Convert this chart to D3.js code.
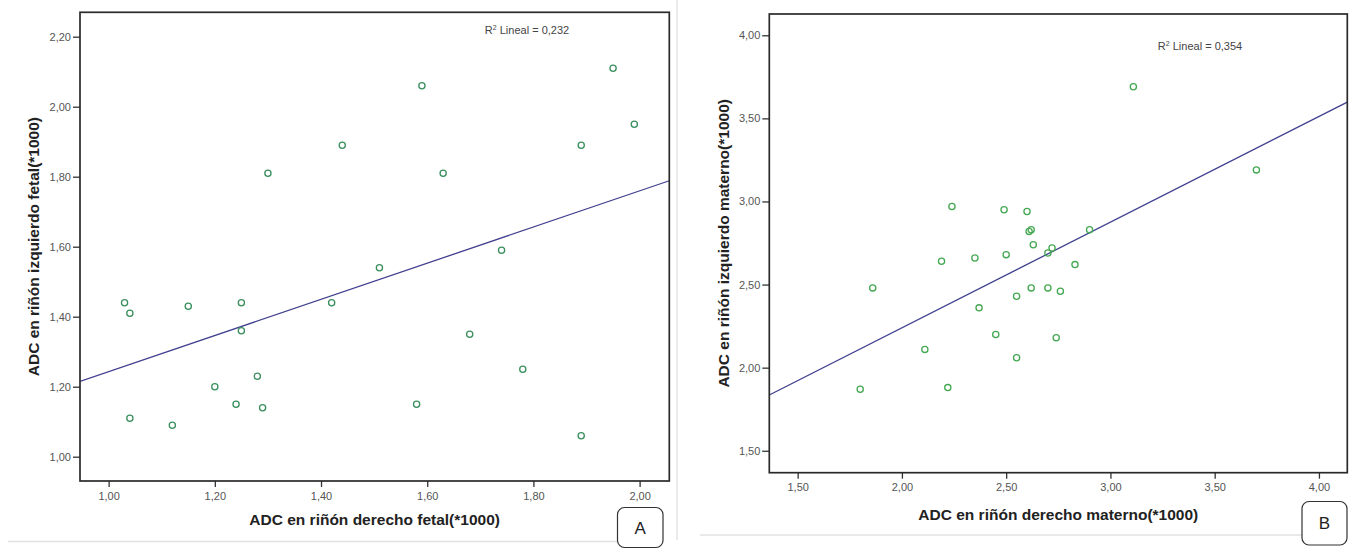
<!DOCTYPE html>
<html>
<head>
<meta charset="utf-8">
<script src="https://cdn.jsdelivr.net/npm/d3@7"></script>
<style>
  html, body { margin: 0; padding: 0; background: #fff; }
  svg { display: block; }
  text { font-family: "Liberation Sans", Arial, sans-serif; }
</style>
</head>
<body>
<svg id="chart" width="1349" height="549"></svg>
<script>
// ---------- DATA ----------
// Panel A (fetal)
const fetalRight = [1.03, 1.04, 1.15, 1.25, 1.25, 1.30, 1.44, 1.42, 1.51, 1.20, 1.28, 1.24, 1.29, 1.04, 1.12,
                    1.59, 1.95, 1.99, 1.89, 1.63, 1.74, 1.68, 1.78, 1.58, 1.89];
const fetalLeft  = [1.44, 1.41, 1.43, 1.44, 1.36, 1.81, 1.89, 1.44, 1.54, 1.20, 1.23, 1.15, 1.14, 1.11, 1.09,
                    2.06, 2.11, 1.95, 1.89, 1.81, 1.59, 1.35, 1.25, 1.15, 1.06];
const fetalXTicks = [1.00, 1.20, 1.40, 1.60, 1.80, 2.00];
const fetalYTicks = [1.00, 1.20, 1.40, 1.60, 1.80, 2.00, 2.20];
const fetalR2 = "0,232";

// Panel B (maternal)
const maternalRight = [1.80, 1.86, 2.11, 2.19, 2.22, 2.24, 2.35, 2.37, 2.45, 2.49, 2.50, 2.55, 2.55, 2.60,
                       2.61, 2.62, 2.62, 2.63, 2.70, 2.70, 2.72, 2.74, 2.76, 2.83, 2.90, 3.11, 3.70];
const maternalLeft  = [1.87, 2.48, 2.11, 2.64, 1.88, 2.97, 2.66, 2.36, 2.20, 2.95, 2.68, 2.43, 2.06, 2.94,
                       2.82, 2.83, 2.48, 2.74, 2.69, 2.48, 2.72, 2.18, 2.46, 2.62, 2.83, 3.69, 3.19];
const maternalXTicks = [1.50, 2.00, 2.50, 3.00, 3.50, 4.00];
const maternalYTicks = [1.50, 2.00, 2.50, 3.00, 3.50, 4.00];
const maternalR2 = "0,354";

// ---------- DRAW ----------
const svg = d3.select("#chart");
const fmt = d => d3.format(".2f")(d).replace(".", ",");

// separators (page furniture)
svg.append("line").attr("x1", 677).attr("x2", 677).attr("y1", 0).attr("y2", 540)
   .attr("stroke", "#e4e4e4").attr("stroke-width", 1.5);
svg.append("line").attr("x1", 8).attr("x2", 640).attr("y1", 541.5).attr("y2", 541.5)
   .attr("stroke", "#e2e2e2").attr("stroke-width", 1.5);
svg.append("line").attr("x1", 700).attr("x2", 1320).attr("y1", 535).attr("y2", 535)
   .attr("stroke", "#e2e2e2").attr("stroke-width", 1.5);

function linearFit(xs, ys) {
  const mx = d3.mean(xs), my = d3.mean(ys);
  let sxy = 0, sxx = 0;
  xs.forEach((x, i) => { sxy += (x - mx) * (ys[i] - my); sxx += (x - mx) * (x - mx); });
  const b = sxy / sxx;
  return { a: my - b * mx, b };
}

function panel(cfg) {
  const g = svg.append("g");
  const x = d3.scaleLinear().domain(cfg.xDom).range(cfg.xRange);
  const y = d3.scaleLinear().domain(cfg.yDom).range(cfg.yRange);
  const [x0, x1] = cfg.xRange, [y1, y0] = cfg.yRange;

  const clipId = "clip" + cfg.id;
  svg.append("clipPath").attr("id", clipId).append("rect")
     .attr("x", x0).attr("y", y0).attr("width", x1 - x0).attr("height", y1 - y0);

  // axes
  const ax = g.append("g").attr("transform", `translate(0,${y1})`)
    .call(d3.axisBottom(x).tickValues(cfg.xTicks).tickFormat(fmt).tickSize(6).tickPadding(5));
  const ay = g.append("g").attr("transform", `translate(${x0},0)`)
    .call(d3.axisLeft(y).tickValues(cfg.yTicks).tickFormat(fmt).tickSize(7).tickPadding(2));
  [ax, ay].forEach(a => {
    a.select(".domain").remove();
    a.selectAll(".tick line").attr("stroke", "#333").attr("stroke-width", 1.3);
    a.selectAll(".tick text").attr("fill", "#555").style("font-size", "11px")
      .style("font-family", "'Liberation Sans', Arial, sans-serif");
  });

  // regression line
  const fit = linearFit(cfg.xs, cfg.ys);
  const xd = x.domain();
  g.append("line").attr("clip-path", `url(#${clipId})`)
    .attr("x1", x(xd[0])).attr("y1", y(fit.a + fit.b * xd[0]))
    .attr("x2", x(xd[1])).attr("y2", y(fit.a + fit.b * xd[1]))
    .attr("stroke", "#40408f").attr("stroke-width", 1.3);

  // points
  g.append("g").selectAll("circle").data(cfg.xs.map((v, i) => [v, cfg.ys[i]])).join("circle")
    .attr("cx", d => x(d[0])).attr("cy", d => y(d[1])).attr("r", 3.1)
    .attr("fill", "none").attr("stroke", cfg.color).attr("stroke-width", 1.3);

  // frame
  g.append("rect").attr("x", x0).attr("y", y0).attr("width", x1 - x0).attr("height", y1 - y0)
    .attr("fill", "none").attr("stroke", "#2a2a2a").attr("stroke-width", 1.7);

  // R2 label
  const r2 = g.append("text").attr("x", cfg.r2Pos[0]).attr("y", cfg.r2Pos[1])
    .attr("text-anchor", "middle").attr("fill", "#444").style("font-size", "11px");
  r2.append("tspan").text("R");
  r2.append("tspan").attr("dy", -4).style("font-size", "7px").text("2");
  r2.append("tspan").attr("dy", 4).text(" Lineal = " + cfg.r2);

  // axis titles
  g.append("text").attr("x", (x0 + x1) / 2).attr("y", cfg.xTitleY)
    .attr("text-anchor", "middle").attr("fill", "#222")
    .style("font-size", "15.5px").style("font-weight", "bold").text(cfg.xTitle);
  g.append("text").attr("transform", `translate(${cfg.yTitleX},${(y0 + y1) / 2}) rotate(-90)`)
    .attr("text-anchor", "middle").attr("fill", "#222")
    .style("font-size", "15.5px").style("font-weight", "bold").text(cfg.yTitle);

  // panel letter box
  const b = cfg.box;
  g.append("rect").attr("x", b[0]).attr("y", b[1]).attr("width", b[2]).attr("height", b[3])
    .attr("rx", 7).attr("fill", "#fff").attr("stroke", "#333").attr("stroke-width", 1.2);
  g.append("text").attr("x", b[0] + b[2] / 2).attr("y", b[1] + b[3] / 2 + 6)
    .attr("text-anchor", "middle").attr("fill", "#222").style("font-size", "17px").text(cfg.letter);
}

panel({
  id: "A",
  xs: fetalRight, ys: fetalLeft,
  xDom: [0.9461, 2.0559], xRange: [80, 669.3],
  yDom: [0.9306, 2.2697], yRange: [481, 12.3],
  xTicks: fetalXTicks, yTicks: fetalYTicks,
  color: "#3b8f5e",
  r2: fetalR2, r2Pos: [527, 34],
  xTitle: "ADC en riñón derecho fetal(*1000)", xTitleY: 525,
  yTitle: "ADC en riñón izquierdo fetal(*1000)", yTitleX: 39,
  box: [617.5, 507.5, 45.5, 40], letter: "A"
});

panel({
  id: "B",
  xs: maternalRight, ys: maternalLeft,
  xDom: [1.364, 4.136], xRange: [769.3, 1347.3],
  yDom: [1.368, 4.128], yRange: [472.7, 14],
  xTicks: maternalXTicks, yTicks: maternalYTicks,
  color: "#45a853",
  r2: maternalR2, r2Pos: [1200, 50],
  xTitle: "ADC en riñón derecho materno(*1000)", xTitleY: 519.5,
  yTitle: "ADC en riñón izquierdo materno(*1000)", yTitleX: 729,
  box: [1302, 501.5, 45, 43.5], letter: "B"
});
</script>
</body>
</html>
